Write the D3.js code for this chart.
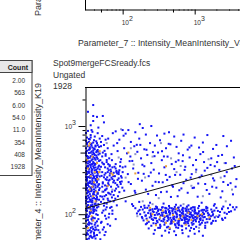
<!DOCTYPE html>
<html><head><meta charset="utf-8">
<script src="https://cdn.jsdelivr.net/npm/d3@7"></script>
<style>
html,body{margin:0;padding:0;background:#fff;overflow:hidden}
svg{display:block;font-family:"Liberation Sans",Arial,sans-serif}
</style></head><body>
<svg id="chart" width="240" height="240"></svg>
<script>
// ── DATA ────────────────────────────────────────────
const countHeader = 'Count';
const countLabels = ['2.00', '563', '6.00', '54.0', '11.0', '354', '408', '1928'];
const titleLines  = ['Spot9mergeFCSready.fcs', 'Ungated', '1928'];
const topXLabel   = 'Parameter_7 :: Intensity_MeanIntensity_V450';
const topYLabel   = 'Parameter_3 :: Intensity_MeanIntensity';
const yLabel      = 'Parameter_4 :: Intensity_MeanIntensity_K19';
const xDomain     = [30, 4260];
const yDomain     = [51, 2770];
const fitX = [30, 4260];
const fitY = [116, 350];

// blue dots, left band
const bandPts = [
  [33,880],[38,860],[45,830],[36,790],[41,760],[32,740],[48,720],[35,705],[40,690],[52,770],[58,700],
  [31,680],[34,660],[39,650],[44,640],[36,620],[42,600],[33,590],[47,580],[38,570],[31,560],[35,550],[41,545],[45,535],[55,610],[62,560],[50,660],
  [32,525],[37,515],[43,505],[34,495],[40,485],[46,475],[31,465],[36,455],[39,445],[44,440],[33,430],[38,420],[42,415],[49,410],[53,500],[58,460],[65,430],[70,480],
  [31,405],[35,398],[39,390],[44,384],[33,376],[37,368],[41,362],[47,355],[32,348],[36,342],[40,336],[45,330],[34,325],[38,320],[43,318],[50,345],[54,372],[60,390],[66,360],[72,340],[80,370],[62,330],
  [31,312],[34,306],[37,300],[41,296],[45,290],[32,285],[36,280],[39,276],[43,272],[48,268],[33,264],[35,259],[38,255],[42,252],[46,248],[31,246],[52,300],[56,280],[61,262],[67,290],[74,270],[82,300],[88,255],[58,250],
  [32,240],[35,236],[39,232],[44,229],[33,225],[37,221],[41,218],[46,214],[31,210],[34,206],[38,203],[42,200],[48,197],[36,194],[40,191],[31,189],[53,230],[57,212],[63,225],[69,205],[76,240],[84,215],[60,195],[92,232],
  [33,186],[36,182],[40,179],[45,176],[32,173],[35,169],[39,166],[43,163],[49,160],[31,157],[34,154],[38,151],[42,149],[47,146],[36,145],[54,180],[59,165],[65,172],[71,155],[78,185],[86,160],[62,150],
  [31,142],[35,139],[38,136],[42,133],[46,130],[33,127],[37,124],[40,121],[44,119],[32,116],[36,114],[39,112],[50,138],[55,125],[60,132],[67,118],[75,140],[83,126],[58,113],
  [32,109],[35,106],[39,103],[43,100],[31,97],[34,95],[38,93],[41,90],[46,88],[33,86],[37,107],[52,104],[57,96],[64,92],[72,101],[80,88],
  [31,84],[34,81],[37,78],[41,76],[45,74],[32,72],[36,70],[39,68],[43,67],[50,80],[55,71],[62,77],
  [33,65],[36,62],[40,60],[31,58],[35,56],[38,54],[42,53],[48,62],[56,58],
  [62,300],[68,320],[75,295],[82,310],[70,260],[78,270],[88,285],[64,240],[74,230],[85,245],[95,270],[92,350],[100,300],[66,350],[80,330],
  [31,833],[34,712],[37,598],[43,671],[39,503],[32,457],[46,512],[35,389],[41,433],[33,352],[38,371],[44,301],[31,283],[36,262],[42,241],[34,228],[47,219],[39,207],[32,198],[37,184],
  [45,171],[33,162],[40,153],[35,147],[43,141],[31,133],[38,128],[46,122],[34,117],[41,113],[36,104],[32,99],[39,91],[44,83],[35,79],[31,73],[42,71],[37,64],[33,59],[40,56],
  [36,742],[32,627],[45,606],[40,557],[34,538],[48,487],[31,492],[38,476],[43,462],[35,437],[47,402],[33,397],[40,378],[36,359],[42,339],[31,333],[48,322],[37,311],[34,294],[45,276],
  [40,267],[32,251],[38,243],[44,236],[35,226],[31,219],[42,211],[36,201],[47,188],[33,178],[39,172],[44,156],[32,150],[37,138],[43,126],[35,121],[31,111],[40,108],[45,98],[33,92],
  [38,85],[34,76],[41,66],[36,57],[32,52],
  [50,590],[56,523],[52,452],[60,412],[55,368],[64,315],[58,292],[51,272],[66,246],[53,223],[61,208],[57,187],[68,168],[52,158],[63,143],[56,134],[70,121],[54,110],[65,101],[59,89],
  [51,82],[67,74],[53,67],[58,63],[49,52],
  [32,645],[37,632],[42,585],[35,575],[39,530],[44,520],[31,510],[36,498],[41,470],[33,448],[45,425],[37,408],[31,385],[42,372],[35,365],[39,350],[46,345],[33,338],[37,328],[41,315],
  [32,302],[44,262],[38,290],[35,270],[31,264],[40,258],[43,246],[36,233],[33,214],[39,222],[45,205],[31,196],[37,190],[42,185],[34,180],[40,168],[36,160],[31,152],[44,148],[38,143],
  [33,138],[41,130],[36,126],[32,122],[39,118],[43,110],[35,101],[31,93],[37,88],[42,80],[33,77],[38,72],[35,66],[40,62],[32,61],[44,58],[37,55],[34,53],[46,66],[41,57],
  [52,385],[57,340],[63,370],[69,305],[77,345],[84,290],[90,315],[97,260],[55,262],[60,245],[66,275],[72,250],[79,225],[87,205],[94,220],[52,205],[58,190],[64,215],[71,180],[81,195],
  [90,178],[99,200],[56,160],[63,175],[75,165],[54,148],[67,140],[79,150],[60,120],[72,110]
];

// blue dots, sparse top and scattered middle
const scatterPts = [
  [39,1730],[39,1300],[44,1270],[53,1300],[55,1100],[39,1140],[173,1050],[190,950],[250,1000],[440,850],[100,900],[120,900],[73,830],[37,900],[36,1020],[46,960],[33,1450],
  [80,870],[110,820],[150,850],[210,800],[300,780],[380,820],[520,760],[700,800],[1000,740],[1500,790],[2500,770],
  [90,700],[130,660],[170,720],[240,640],[330,690],[460,620],[650,680],[900,600],[1300,650],[2000,610],[3200,680],
  [75,600],[105,560],[145,590],[200,545],[280,600],[400,560],[560,580],[800,540],[1150,570],[1800,550],[2800,590],
  [85,520],[115,490],[160,510],[220,470],[310,500],[420,450],[600,490],[850,440],[1200,480],[1700,430],[2400,470],[3500,440],
  [95,420],[125,400],[180,430],[250,380],[350,410],[480,370],[680,400],[950,360],[1350,390],[1900,350],[2700,380],
  [100,340],[140,330],[200,350],[270,320],[380,340],[520,325],[740,345],[1050,320],[1500,335],[2200,318],[3300,330],
  [88,300],[118,285],[165,295],[230,270],[320,290],[450,265],[630,280],[880,260],[1250,275],[1800,255],[2600,270],[3800,250],
  [97,235],[130,220],[185,240],[260,210],[360,230],[500,205],[700,225],[980,200],[1400,220],[2000,200],[2900,215],
  [105,185],[150,175],[210,190],[290,165],[410,180],[580,160],[800,175],[1100,158],[1600,170],[2300,155],[3400,168],
  [110,140],[135,130],[170,138],[200,125],[240,135],[300,120],[370,132],[450,118],[550,128],[680,115],[820,126],[1000,120],[1250,135],[1500,118],[1900,130],[2400,116],[3100,128],[3800,120],
  [63,720],[84,640],[103,777],[128,451],[157,612],[188,364],[214,538],[246,297],[277,455],[318,231],[352,518],[397,279],[436,628],[488,212],[547,393],[612,187],[688,466],[763,246],
  [846,572],[937,198],[1044,412],[1170,262],[1310,507],[1470,188],[1660,362],[1870,241],[2130,458],[2420,182],[2790,300],[3150,225],[3600,352],
  [58,480],[71,410],[93,390],[109,347],[121,231],[136,402],[147,184],[163,252],[176,611],[196,287],[226,170],[263,506],[286,233],[341,178],[374,452],[415,245],[468,157],[535,279],
  [596,409],[654,196],[725,318],[910,285],[1120,223],[1380,312],[1750,205],[2050,390],[2500,232],[3700,205]
];

// blue dots, horizontal cluster
const clusterPts = [
  [140,124],[180,121],[230,125],[290,122],[360,120],[440,124],[530,121],[640,125],[780,122],[950,120],[1150,124],[1450,121],[1850,125],[2500,122],[3400,120],
  [150,117],[190,113],[220,118],[260,114],[300,116],[340,112],[390,118],[430,113],[480,117],[540,114],[600,119],[670,112],[740,116],[820,113],[900,118],[1000,114],[1120,117],[1280,112],[1450,116],[1700,113],[2000,118],[2400,114],[2900,117],[3600,113],
  [165,108],[200,105],[235,110],[270,106],[310,109],[350,104],[395,110],[440,106],[490,108],[545,104],[610,111],[680,105],[760,109],[840,106],[930,110],[1030,104],[1150,108],[1300,105],[1500,110],[1750,106],[2100,109],[2600,104],[3200,108],
  [175,100],[210,97],[245,102],[280,98],[320,101],[360,96],[400,103],[450,99],[500,97],[560,102],[620,98],[690,101],[770,96],[860,100],[960,97],[1070,102],[1200,98],[1350,101],[1550,97],[1800,100],[2200,97],[2800,101],
  [185,93],[215,89],[250,94],[290,90],[330,92],[370,88],[410,95],[460,91],[510,89],[570,94],[630,90],[700,93],[780,88],[870,92],[970,89],[1080,94],[1210,90],[1380,93],[1600,88],[1900,92],[2400,89],
  [195,85],[230,82],[265,86],[305,81],[345,84],[390,80],[435,87],[485,83],[540,85],[600,81],[665,86],[740,82],[820,84],[910,80],[1020,86],[1150,82],[1300,85],[1500,81],[1800,84],
  [210,77],[250,74],[290,78],[335,73],[380,76],[430,72],[480,79],[540,75],[600,77],[670,73],[750,78],[830,74],[930,76],[1050,72],[1200,77],[1400,74],[1700,78],
  [230,69],[280,66],[330,70],[390,65],[450,68],[520,64],[590,70],[670,66],[760,69],[860,65],[980,68],[1150,64],[1400,70],
  [270,60],[350,57],[440,62],[550,58],[680,61],[820,56],[1000,60],[1300,57],
  [207,96],[243,112],[268,79],[297,104],[323,87],[352,119],[383,93],[412,71],[447,109],[476,86],[508,115],[532,77],[566,99],[593,84],[627,107],[655,74],[701,96],[733,88],
  [769,113],[811,79],[856,101],[893,70],[942,91],[988,107],[1043,83],[1098,99],[1172,76],[1236,110],[1318,92],[1405,80],[1524,103],[1632,89],[1780,97],[1960,84],[2250,106],[2650,91],
  [226,103],[254,88],[281,115],[312,70],[338,97],[366,83],[399,106],[428,91],[462,78],[497,102],[521,94],[553,71],[581,110],[612,85],[644,97],[686,118],[717,79],[752,92],
  [793,104],[838,87],[879,115],[921,95],[965,78],[1010,110],[1066,89],[1130,103],[1205,86],[1270,96],[1350,112],[1470,88],[1590,99],[1720,80],[1880,110],[2120,93],[2450,86],[3000,106],
  [238,92],[305,99],[372,105],[418,84],[505,91],[575,79],[660,103],[725,86],[800,95],[885,104],[1015,93],[1180,88],
  [158,102],[172,112],[188,90],[203,118],[218,79],[248,98],[262,108],[276,91],[299,84],[317,113],[331,76],[356,99],[378,87],[404,117],[423,95],[455,103],[471,82],[493,111],[515,88],[537,107],
  [558,92],[586,118],[603,75],[634,95],[661,87],[694,108],[712,91],[746,99],[786,82],[815,107],[849,93],[905,98],[953,84],[1004,102],[1090,92],[1160,95],[1260,80],[1330,100],[1430,108],[1680,95]
];

// orange dots (denser spots)
const orangePts = [
  [34,600],[38,450],[33,330],[36,270],[40,230],[35,190],[39,160],[42,140],[34,120],[37,95],[33,70],[41,300],[45,250],[38,205],[70,290],[73,280],[48,520],[44,380],[36,110],
  [220,85],[260,100],[330,92],[400,80],[500,98],[600,88],[750,76],[820,104],[360,110],[450,70],[900,86],[560,115],[1100,95],[290,75],[680,95],
  [150,290],[400,350],[120,500],
  [32,410],[43,180],[39,85],[35,640],[47,300],[62,210],[1250,100],[380,96],[240,118],[1600,92],[510,82]
];

// pale grey-blue dots
const palePts = [
  [130,560],[260,450],[560,300],[900,210],[1700,280],[2600,380],[190,140],[1300,160],[48,300],[52,180],[700,130],[2000,95],
  [88,440],[142,366],[205,261],[317,152],[470,430],[640,352],[1040,300],[1560,420],[2300,260],[3300,190],[72,190],[110,260],[160,95],
  [260,130],[420,100],[780,118],[1150,70],[1800,108],[2700,140],[45,170],[40,420],[60,640],[95,920],[150,480],[340,640]
];

// ── SCALES ──────────────────────────────────────────
const x = d3.scaleLog().domain(xDomain).range([85, 240]);
const y = d3.scaleLog().domain(yDomain).range([240, 87]);

const svg = d3.select('#chart');
const ink = '#333';

function tickLen(d) {
  const m = d / Math.pow(10, Math.floor(Math.log10(d) + 1e-9));
  if (Math.abs(m - 1) < 1e-6) return 7;
  if (Math.abs(m - 5) < 1e-6) return 5;
  return 3;
}
const isMajor = d => tickLen(d) === 7;

// ── TOP CHART (partial) ─────────────────────────────
const topAxis = svg.append('g').attr('transform', 'translate(0,9.5)')
  .call(d3.axisBottom(x).tickValues(x.ticks()).tickSizeOuter(0).tickFormat(''));
topAxis.select('.domain').attr('stroke', '#000');
topAxis.selectAll('.tick line').attr('stroke', '#000').attr('y2', d => tickLen(d) - 2);

svg.append('line')
  .attr('x1', 85.5).attr('x2', 85.5).attr('y1', 0).attr('y2', 10)
  .attr('stroke', '#000');

const topLbl = svg.append('g').selectAll('text')
  .data(x.ticks().filter(isMajor)).enter().append('text')
  .attr('x', d => x(d) - 1).attr('y', 25)
  .attr('fill', ink);
topLbl.append('tspan').attr('font-size', 6.5).text('10');
topLbl.append('tspan').attr('font-size', 7).attr('dy', -4).text(d => Math.round(Math.log10(d)));

svg.append('text').attr('x', 78).attr('y', 46)
  .attr('font-size', 8.7).attr('fill', ink).text(topXLabel);

svg.append('text').attr('transform', 'translate(41,16) rotate(-90)')
  .attr('font-size', 9).attr('fill', ink).text(topYLabel);

// ── COUNT TABLE ─────────────────────────────────────
const tbl = svg.append('g');
tbl.append('rect').attr('x', -1).attr('y', 60.5).attr('width', 33).attr('height', 115)
  .attr('fill', '#fff').attr('stroke', '#444');
tbl.append('rect').attr('x', -1).attr('y', 60.5).attr('width', 33).attr('height', 12)
  .attr('fill', '#e8e8e8').attr('stroke', '#444');
tbl.append('text').attr('x', 28).attr('y', 69.5).attr('text-anchor', 'end')
  .attr('font-size', 7).attr('font-weight', 'bold').attr('fill', '#222').text(countHeader);
tbl.selectAll('text.v').data(countLabels).enter().append('text').attr('class', 'v')
  .attr('x', 25).attr('y', (d, i) => 83 + i * 12.3).attr('text-anchor', 'end')
  .attr('font-size', 6.5).attr('fill', ink).text(d => d);

// ── MAIN CHART ──────────────────────────────────────
svg.append('g').selectAll('text').data(titleLines).enter().append('text')
  .attr('x', 53).attr('y', (d, i) => 66 + i * 11.5)
  .attr('font-size', 8.5).attr('fill', ink).text(d => d);

svg.append('text').attr('transform', 'translate(40.5,83) rotate(-90)')
  .attr('text-anchor', 'end').attr('font-size', 9).attr('fill', ink).text(yLabel);

const dots = svg.append('g');
function drawDots(pts, color) {
  dots.append('g').selectAll('rect').data(pts).enter().append('rect')
    .attr('x', d => x(d[0]) - 1).attr('y', d => y(d[1]) - 1)
    .attr('width', 2).attr('height', 2).attr('fill', color);
}
drawDots(palePts, '#8f95c8');
drawDots(bandPts, '#1515f5');
drawDots(scatterPts, '#1515f5');
drawDots(clusterPts, '#1515f5');
drawDots(orangePts, '#e8a03a');

svg.append('line')
  .attr('x1', x(fitX[0])).attr('y1', y(fitY[0]))
  .attr('x2', x(fitX[1])).attr('y2', y(fitY[1]))
  .attr('stroke', '#111').attr('stroke-width', 1);

const yAxis = svg.append('g').attr('transform', 'translate(85.5,0)')
  .call(d3.axisLeft(y).tickValues(y.ticks()).tickSizeOuter(0).tickFormat(''));
yAxis.select('.domain').attr('stroke', '#000');
yAxis.selectAll('.tick line').attr('stroke', '#000').attr('x2', d => -tickLen(d));

const yLbl = svg.append('g').selectAll('text')
  .data(y.ticks().filter(isMajor)).enter().append('text')
  .attr('x', 76).attr('y', d => y(d) + 3)
  .attr('text-anchor', 'end').attr('fill', ink);
yLbl.append('tspan').attr('font-size', 6.5).text('10');
yLbl.append('tspan').attr('font-size', 7).attr('dy', -4).text(d => Math.round(Math.log10(d)));

svg.append('line')
  .attr('x1', 85).attr('x2', 240).attr('y1', 87.5).attr('y2', 87.5)
  .attr('stroke', '#000');
</script>
</body></html>
